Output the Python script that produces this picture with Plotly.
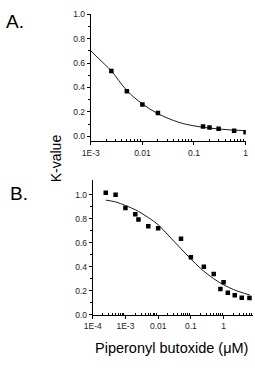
import plotly.graph_objects as go

# Panel A data
a_x = [0.0025, 0.005, 0.01, 0.02, 0.15, 0.2, 0.3, 0.6, 1.0]
a_y = [0.534, 0.368, 0.26, 0.19, 0.08, 0.072, 0.062, 0.046, 0.032]
# Panel A fitted curve
a_fit_x = [0.001, 0.0015, 0.0025, 0.005, 0.01, 0.02, 0.05, 0.1, 0.2, 0.5, 1.0]
a_fit_y = [0.70, 0.627, 0.535, 0.375, 0.265, 0.185, 0.115, 0.085, 0.067, 0.052, 0.046]

# Panel B data
b_x = [0.00025, 0.0005, 0.001, 0.002, 0.0025, 0.005, 0.01, 0.05, 0.1, 0.25,
       0.5, 0.8, 1.0, 1.35, 2.2, 3.6, 6.2]
b_y = [1.017, 1.0, 0.889, 0.837, 0.794, 0.737, 0.72, 0.634, 0.48, 0.40,
       0.34, 0.215, 0.27, 0.183, 0.162, 0.142, 0.14]
b_fit_x = [0.00025, 0.0005, 0.001, 0.002, 0.005, 0.01, 0.02, 0.05, 0.1, 0.2, 0.5, 1.0, 2.0, 6.5]
b_fit_y = [0.955, 0.94, 0.91, 0.875, 0.81, 0.75, 0.665, 0.55, 0.465, 0.385, 0.30, 0.25, 0.21, 0.163]

a_ticks = [0.001, 0.01, 0.1, 1]
a_ticktext = ["1E-3", "0.01", "0.1", "1"]
b_ticks = [0.0001, 0.001, 0.01, 0.1, 1]
b_ticktext = ["1E-4", "1E-3", "0.01", "0.1", "1"]

W, H = 255, 385
FONT = "Liberation Sans, Arial, sans-serif"

def minor_vals(lo, hi):
    vals = []
    d = lo
    while d < hi:
        for m in range(2, 10):
            vals.append(m * d)
        d *= 10
    return vals

fig = go.Figure()
mk = dict(symbol="square", size=4.5, color="black")
ln = dict(color="black", width=0.9)
fig.add_trace(go.Scatter(x=a_fit_x, y=a_fit_y, mode="lines", line=ln, line_shape="spline",
                         xaxis="x", yaxis="y", showlegend=False, hoverinfo="skip"))
fig.add_trace(go.Scatter(x=a_x, y=a_y, mode="markers", marker=mk, xaxis="x", yaxis="y",
                         showlegend=False))
fig.add_trace(go.Scatter(x=b_fit_x, y=b_fit_y, mode="lines", line=ln, line_shape="spline",
                         xaxis="x2", yaxis="y2", showlegend=False, hoverinfo="skip"))
fig.add_trace(go.Scatter(x=b_x, y=b_y, mode="markers", marker=mk, xaxis="x2", yaxis="y2",
                         showlegend=False))

tickfont = dict(family=FONT, size=8.5, color="#222")
common = dict(showline=True, linecolor="black", linewidth=1, ticks="outside", ticklen=3,
              tickwidth=1, tickcolor="black", showgrid=False, zeroline=False,
              tickfont=tickfont)

fig.update_layout(
    width=W, height=H,
    margin=dict(l=0, r=0, t=0, b=0),
    paper_bgcolor="white", plot_bgcolor="white",
    xaxis=dict(type="log", range=[-3, 0.005], domain=[85.5 / W, 247.5 / W], anchor="y",
               tickmode="array", tickvals=a_ticks, ticktext=a_ticktext,
               minor=dict(tickmode="array", tickvals=minor_vals(0.001, 1), ticks="inside",
                          ticklen=2, tickcolor="black", showgrid=False),
               **common),
    yaxis=dict(range=[-0.042, 1.0], domain=[1 - 140 / H, 1 - 9.5 / H], anchor="x",
               tickmode="array", tickvals=[0, 0.2, 0.4, 0.6, 0.8, 1.0],
               ticktext=["0.0", "0.2", "0.4", "0.6", "0.8", "1.0"],
               minor=dict(tickmode="array", tickvals=[0.1, 0.3, 0.5, 0.7, 0.9], ticks="outside",
                          ticklen=2, tickcolor="black", showgrid=False),
               **common),
    xaxis2=dict(type="log", range=[-4, 0.9], domain=[87.5 / W, 1.0], anchor="y2",
                tickmode="array", tickvals=b_ticks, ticktext=b_ticktext,
                minor=dict(tickmode="array", tickvals=minor_vals(0.0001, 10), ticks="inside",
                           ticklen=2, tickcolor="black", showgrid=False),
                **common),
    yaxis2=dict(range=[0, 1.12], domain=[1 - 318 / H, 1 - 180 / H], anchor="x2",
                tickmode="array", tickvals=[0, 0.2, 0.4, 0.6, 0.8, 1.0],
                ticktext=["0.0", "0.2", "0.4", "0.6", "0.8", "1.0"],
                minor=dict(tickmode="array", tickvals=[0.1, 0.3, 0.5, 0.7, 0.9], ticks="outside",
                           ticklen=2, tickcolor="black", showgrid=False),
                **common),
    annotations=[
        dict(text="A.", x=-5 / W, y=1 - 4 / H, xref="paper", yref="paper", xanchor="left",
             yanchor="top", showarrow=False, font=dict(family=FONT, size=19, color="black")),
        dict(text="B.", x=-1 / W, y=1 - 181 / H, xref="paper", yref="paper", xanchor="left",
             yanchor="top", showarrow=False, font=dict(family=FONT, size=19, color="black")),
        dict(text="K-value", x=49.5 / W, y=1 - 157 / H, xref="paper", yref="paper",
             xanchor="center", yanchor="middle", textangle=-90, showarrow=False,
             font=dict(family=FONT, size=14, color="black")),
        dict(text="Piperonyl butoxide (μM)", x=170 / W, y=1 - 352 / H, xref="paper",
             yref="paper", xanchor="center", yanchor="middle", showarrow=False,
             font=dict(family=FONT, size=14.5, color="black")),
    ],
)

fig.write_html("out.html")
